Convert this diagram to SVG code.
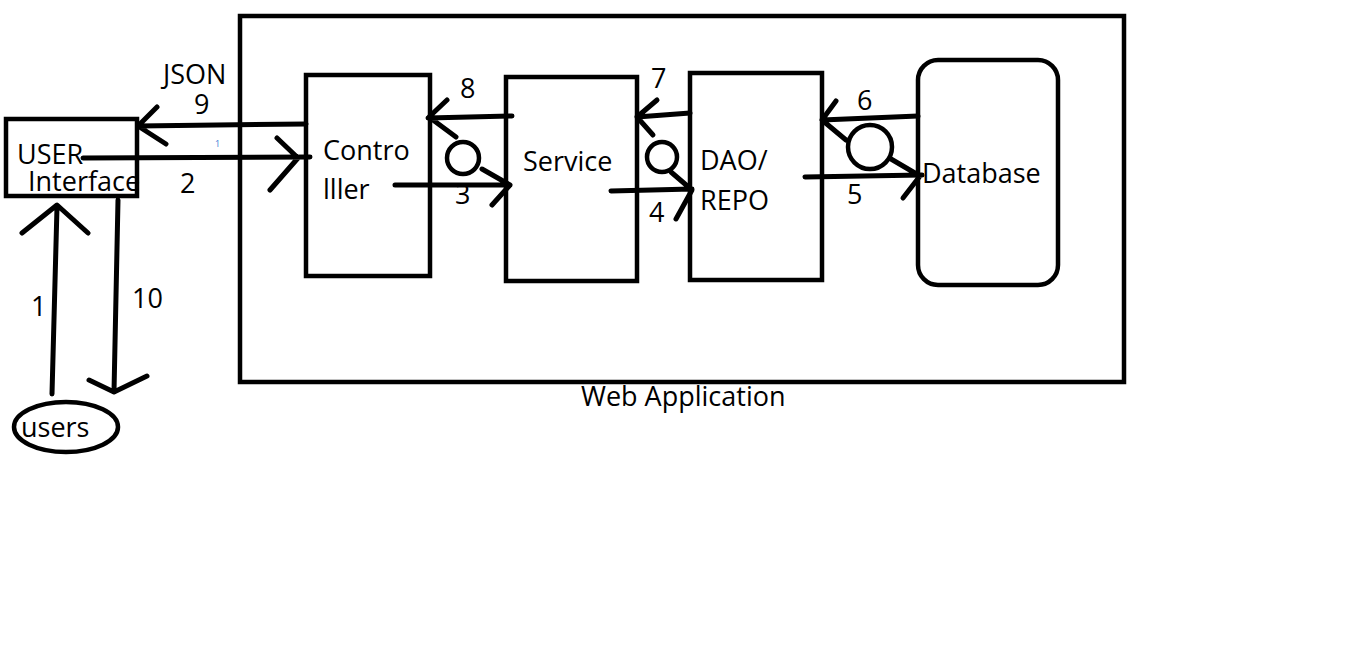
<svg xmlns="http://www.w3.org/2000/svg" width="1366" height="666" viewBox="0 0 1366 666">
<style>
.box{fill:none;stroke:#000;stroke-width:4.5}
.ln{fill:none;stroke:#000;stroke-width:5;stroke-linecap:round;stroke-linejoin:round}
text{font-family:"Open Sans","Noto Sans","Liberation Sans",sans-serif;font-size:27px;fill:#000}
</style>
<rect width="1366" height="666" fill="#fff"/>
<g id="webapp">
<rect class="box" x="240" y="16" width="884" height="366"/>
<text x="581" y="406">Web Application</text>
</g>
<g id="userinterface">
<rect class="box" x="6" y="119" width="131" height="77"/>
<text x="17" y="164">USER</text>
<text x="28" y="191">Interface</text>
</g>
<g id="users">
<ellipse class="box" cx="66" cy="427" rx="52" ry="25"/>
<text x="21" y="437">users</text>
</g>
<g id="controller">
<rect class="box" x="306" y="75" width="124" height="201"/>
<text x="323" y="160">Contro</text>
<text x="323" y="199">lller</text>
</g>
<g id="service">
<rect class="box" x="506" y="77" width="131" height="204"/>
<text x="523" y="171">Service</text>
</g>
<g id="dao">
<rect class="box" x="690" y="73" width="132" height="207"/>
<text x="700" y="170">DAO/</text>
<text x="700" y="210">REPO</text>
</g>
<g id="database">
<rect class="box" x="918" y="60" width="140" height="225" rx="20"/>
<text x="922" y="183">Database</text>
</g>
<g id="connectors">
<path class="ln" d="M306 124 L138 126 M157 107 L138 126 L166 144"/>
<path class="ln" d="M83 158 L310 157 M277 138 L298 158 L270 190"/>
<path class="ln" d="M52 394 L57 207 M22 233 L57 205 L88 233"/>
<path class="ln" d="M118 200 L114 392 M89 380 L114 392 L147 376"/>
<path class="ln" d="M512 116 L428 118 M447 100 L429 117 L456 137"/>
<circle class="box" cx="463" cy="158" r="16"/>
<path class="ln" d="M395 185 L510 185 M482 169 L510 185 L492 205"/>
<path class="ln" d="M690 113 L637 117 M657 100 L637 117 L653 135"/>
<circle class="box" cx="662" cy="157" r="15"/>
<path class="ln" d="M611 191 L692 189 M671 172 L692 190 L676 219"/>
<path class="ln" d="M918 116 L822 120 M836 101 L822 120 L846 140"/>
<circle class="box" cx="870" cy="147" r="22"/>
<path class="ln" d="M805 177 L922 175 M891 159 L920 176 L903 198"/>
</g>
<g id="labels">
<text x="163" y="84">JSON</text>
<text x="194" y="114">9</text>
<text x="215" y="147" style="font-size:9px;fill:#3a7bd5">1</text>
<text x="180" y="193">2</text>
<text x="460" y="98">8</text>
<text x="455" y="204">3</text>
<text x="651" y="88">7</text>
<text x="649" y="222">4</text>
<text x="857" y="110">6</text>
<text x="847" y="204">5</text>
<text x="31" y="316">1</text>
<text x="132" y="308">10</text>
</g>
</svg>
